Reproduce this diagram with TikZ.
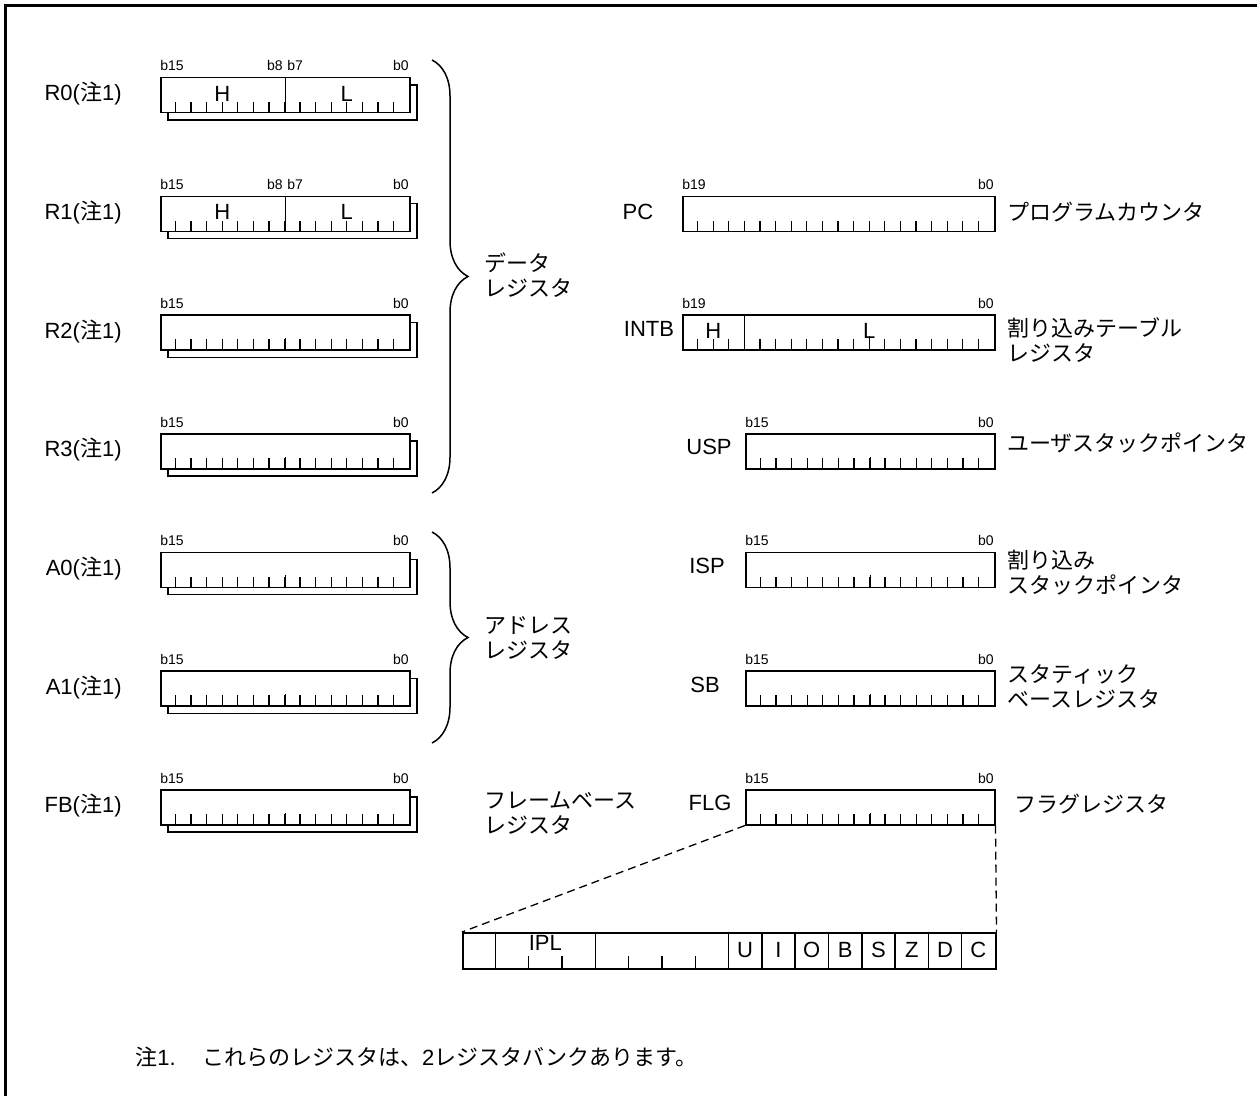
\documentclass[tikz,border=0pt]{standalone}
\usepackage{fontspec}
\setmainfont{Liberation Sans}
\newfontfamily\jp{Noto Sans CJK JP}
\usetikzlibrary{decorations.pathreplacing}

\tikzset{
  reg/.style={draw, fill=white, line width=0.75pt, inner sep=0pt,
    anchor=north west, minimum height=17.5pt},
  wire/.style={line width=0.65pt},
  bitno/.style={font=\fontsize{7}{8}\selectfont, inner sep=0pt},
  lbl/.style={font=\fontsize{11}{13}\selectfont, inner sep=0pt},
  desc/.style={font=\jp\fontsize{11}{12.5}\selectfont, inner sep=0pt,
    align=left, anchor=west},
  bank/.style={decorate, decoration={brace, amplitude=18pt}, line width=0.75pt}
}

\begin{document}
\begin{tikzpicture}[x=0.5pt, y=-0.5pt]
  \useasboundingbox (0,0) rectangle (1257,1096);
  \draw[line width=1.25pt] (5.5,1100) -- (5.5,5.5) -- (1262,5.5);

  % banked registers on the left
  \foreach \rn/\ty/\rl in {r0/77/R0, r1/195.7/R1, r2/314.3/R2, r3/433/R3,
      a0/551.7/A0, a1/670.3/A1, fb/789/FB} {
    \draw[line width=0.75pt] (168,\ty+8) rectangle (417,\ty+43);
    \node[reg, minimum width=124.5pt] (\rn) at (160,\ty) {};
    \node[lbl, anchor=east] (\rn-lbl) at (122,\ty+17) {\rl({\jp 注}1)};
    \node[bitno, anchor=base west] (\rn-hi) at (160,\ty-6) {b15};
    \node[bitno, anchor=base east] (\rn-lo) at (409,\ty-6) {b0};
    \foreach \k in {1,...,15}
      \draw[wire] (160+\k*15.5625,\ty+35) -- ++(0,-10);
    \draw[wire] (\rn.south) -- ++(0,-13);
  }
  \draw[line width=0.75pt] (r0.north) -- (r0.south);
  \draw[line width=0.75pt] (r1.north) -- (r1.south);
  \node[bitno, anchor=base east] (r0-b8) at (283,71) {b8};
  \node[bitno, anchor=base west] (r0-b7) at (287,71) {b7};
  \node[bitno, anchor=base east] (r1-b8) at (283,189.7) {b8};
  \node[bitno, anchor=base west] (r1-b7) at (287,189.7) {b7};
  \node[lbl] (r0-h) at (222.25,93.5) {H};
  \node[lbl] (r0-l) at (346.75,93.5) {L};
  \node[lbl] (r1-h) at (222.25,212.2) {H};
  \node[lbl] (r1-l) at (346.75,212.2) {L};

  \coordinate (data-top) at (432,60);
  \coordinate (data-bot) at (432,493);
  \coordinate (addr-top) at (432,532);
  \coordinate (addr-bot) at (432,743);
  \draw[bank] (data-top) -- (data-bot);
  \draw[bank] (addr-top) -- (addr-bot);
  \node[desc] (data-desc) at (484,275) {データ\\レジスタ};
  \node[desc] (addr-desc) at (484,638) {アドレス\\レジスタ};
  \node[desc] (fb-desc) at (484,813) {フレームベース\\レジスタ};

  % 20-bit registers
  \node[reg, minimum width=156pt] (pc) at (682,195.7) {};
  \node[reg, minimum width=156pt] (intb) at (682,314.3) {};
  \foreach \k in {1,...,19}
    \draw[wire] (682+\k*15.6,230.7) -- ++(0,-10);
  \foreach \k in {1,2,3,5,6,...,19}
    \draw[wire] (682+\k*15.6,349.3) -- ++(0,-10);
  \draw[wire] (682+12*15.6,349.3) -- ++(0,-13);
  \draw[line width=0.75pt] (744.4,314.3) -- (744.4,349.3);
  \node[bitno, anchor=base west] (pc-hi) at (682,189.7) {b19};
  \node[bitno, anchor=base east] (pc-lo) at (994,189.7) {b0};
  \node[bitno, anchor=base west] (intb-hi) at (682,308.3) {b19};
  \node[bitno, anchor=base east] (intb-lo) at (994,308.3) {b0};
  \node[lbl] (intb-h) at (713.2,330.8) {H};
  \node[lbl] (intb-l) at (869.2,330.8) {L};

  % 16-bit registers on the right
  \foreach \rn/\ty in {usp/433, isp/551.7, sb/670.3, flg/789} {
    \node[reg, minimum width=124.5pt] (\rn) at (745,\ty) {};
    \node[bitno, anchor=base west] (\rn-hi) at (745,\ty-6) {b15};
    \node[bitno, anchor=base east] (\rn-lo) at (994,\ty-6) {b0};
    \foreach \k in {1,...,15}
      \draw[wire] (745+\k*15.5625,\ty+35) -- ++(0,-10);
    \draw[wire] (\rn.south) -- ++(0,-13);
  }

  \node[lbl] (pc-lbl) at (638,212) {PC};
  \node[lbl] (intb-lbl) at (649,329) {INTB};
  \node[lbl] (usp-lbl) at (709,447) {USP};
  \node[lbl] (isp-lbl) at (707,566) {ISP};
  \node[lbl] (sb-lbl) at (705,685) {SB};
  \node[lbl] (flg-lbl) at (710,803) {FLG};

  \node[desc] (pc-desc) at (1007,212) {プログラムカウンタ};
  \node[desc] (intb-desc) at (1007,340) {割り込みテーブル\\レジスタ};
  \node[desc] (usp-desc) at (1007,443) {ユーザスタックポインタ};
  \node[desc] (isp-desc) at (1007,573) {割り込み\\スタックポインタ};
  \node[desc] (sb-desc) at (1007,687) {スタティック\\ベースレジスタ};
  \node[desc] (flg-desc) at (1014,804) {フラグレジスタ};

  % flag register bits
  \node[reg, minimum width=266.5pt, minimum height=18pt] (flgbits) at (462,932) {};
  \foreach \k in {1,4,8,9,10,11,12,13,14,15}
    \draw[line width=0.75pt] (462+\k*33.3125,932) -- (462+\k*33.3125,968);
  \foreach \k in {2,3,5,6,7}
    \draw[wire] (462+\k*33.3125,968) -- ++(0,-12);
  \node[lbl] (ipl) at (545.3,943) {IPL};
  \foreach \b [count=\i from 8] in {U,I,O,B,S,Z,D,C}
    \node[lbl] (bit-\b) at (462+\i*33.3125+16.66,950) {\b};
  \draw[wire, dash pattern=on 4pt off 2.5pt] (flg.south west) -- (flgbits.north west);
  \draw[wire, dash pattern=on 4pt off 2.5pt] (flg.south east) -- (flgbits.north east);

  \node[desc] (note) at (135,1057) {注{\fontspec{Liberation Sans}1.}\hspace{1.2em}これらのレジスタは、{\fontspec{Liberation Sans}2}レジスタバンクあります。};
\end{tikzpicture}
\end{document}
